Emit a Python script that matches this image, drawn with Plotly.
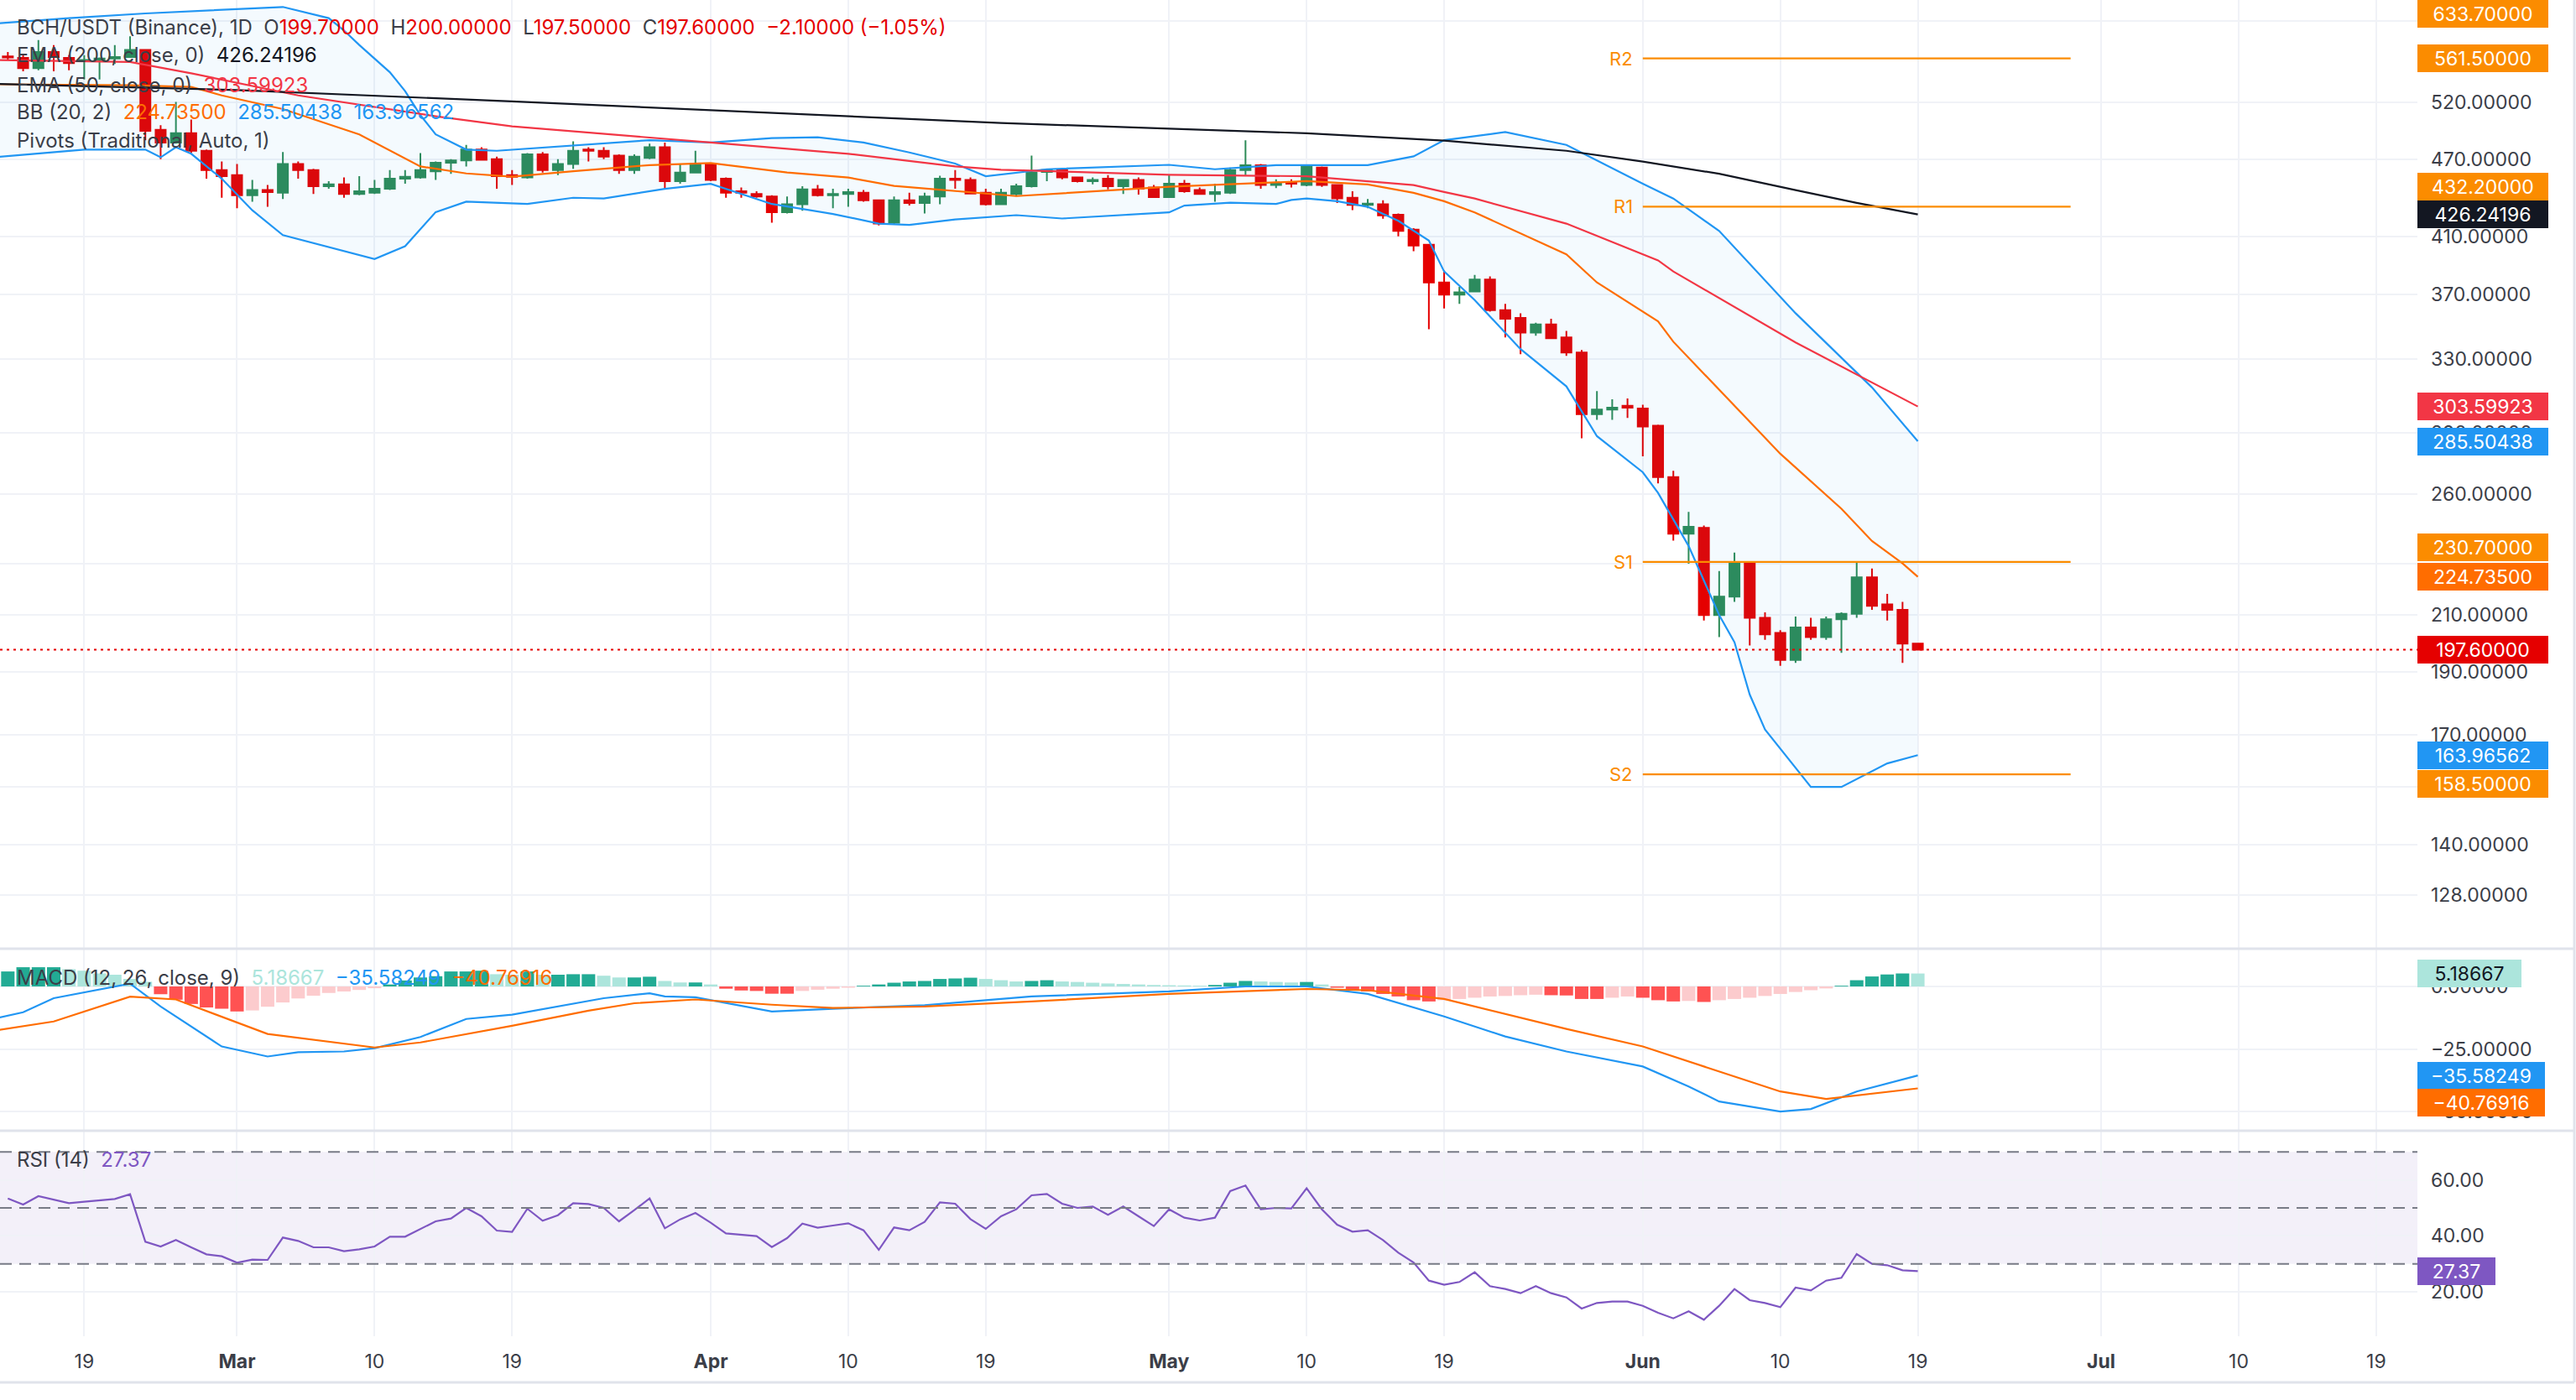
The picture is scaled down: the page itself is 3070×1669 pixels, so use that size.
import math
import pandas as pd
import plotly.graph_objects as go

FONT = "Inter"
TXT = "#3b3e48"
UP = "#2D8B57"
DN = "#E50000"

# ---------------- candles (daily) ----------------
dates = pd.date_range("2023-02-14", "2023-06-19", freq="D").strftime("%Y-%m-%d").tolist()

opens = [563.5, 562, 552, 568, 562, 559, 560, 561.5, 563, 570, 495, 484, 492, 477, 461,
         457, 441, 445, 443, 466, 461, 448, 449.5, 442, 443, 446, 454, 455, 460, 467, 469, 478, 470, 457, 455,
         474, 461, 466, 478, 477, 473, 461, 471, 480, 452, 459,
         466, 454, 444, 442, 440, 428, 434, 445.5, 441, 442, 443, 437, 420, 437, 435, 440, 454, 453, 443, 434,
         442, 448, 459.5, 461, 455, 452, 454, 448, 453, 447,
         439.5, 450, 445, 442, 443, 461, 465, 449, 451, 449, 463, 449, 439, 433.5, 434, 426, 415, 404, 378, 370,
         372, 380, 360, 355, 346, 351, 343, 334, 299.5, 302, 304,
         302.5, 293.5, 268, 242.5, 245, 210, 217, 230, 209, 203.5, 194, 205.5, 202, 208.5, 210.5, 224.5, 214, 212, 199.7]
highs = [568, 565, 580, 575, 565, 564.7, 562.5, 575, 584, 571, 499, 520, 504, 478, 468,
         466, 453, 449, 476, 468, 462, 452, 455, 456, 453, 461, 461, 475, 468, 470, 482, 480, 472, 461, 475,
         476, 470, 485, 480, 480, 474, 474, 483, 484, 466, 477,
         466.5, 455, 447, 444, 441, 440, 448, 449, 446, 446, 445, 437.5, 440, 443, 443, 456.5, 461, 455, 446, 446,
         450, 473, 462, 461.5, 455.5, 455, 457, 453.5, 455, 449,
         457, 453, 447, 450, 463, 486, 466, 453.5, 453.5, 464, 464, 449.5, 444, 438, 437, 427, 416, 404.5, 386, 375,
         383, 382, 364, 358, 352, 354.5, 347, 335.5, 312, 307.5, 308,
         304.5, 294, 271, 252, 246, 227, 234.5, 231, 211, 204.5, 209.5, 209, 209.5, 211, 231, 228, 218, 215, 200]
lows = [560, 549, 550, 549, 550, 541, 541, 556, 562, 486, 470, 483, 475, 454, 439,
        431, 436, 432, 438, 454, 442, 446, 439, 441, 442, 445, 450, 454, 453, 458, 464, 469, 446, 449, 454,
        459, 457, 462, 468, 470, 458, 458, 470, 446, 450, 459,
        452, 439, 439, 439, 420, 427, 429, 440, 431, 432, 436, 418, 419, 433, 427, 434, 446, 442, 433, 434,
        440, 447, 452, 453.5, 451, 449.5, 445.5, 442, 441.5, 439,
        439, 443, 441.5, 436, 442, 457, 446, 446.5, 447, 448, 447.5, 435, 429.5, 431, 423, 410, 399.5, 348, 361, 364,
        372, 359, 343, 333, 344, 342, 332, 287, 296.5, 296.5, 297.5,
        278, 265, 239.5, 230, 208, 202, 215, 199, 201, 192, 193, 201, 201, 196.5, 209, 212, 208, 193, 197.5]
closes = [562.5, 552, 568, 563, 557, 560, 561.5, 563, 570, 494, 484, 492, 477, 461, 456,
          441, 445, 443.5, 466, 461, 448, 449.5, 442, 444, 446, 454, 455.5, 461, 467, 469, 478, 469.5, 456, 455.5, 474,
          461, 466, 477, 477, 472, 461, 472, 480, 452, 459, 466,
          453, 443, 443, 440, 428, 434, 445.5, 441, 442, 443.5, 437, 419.5, 437, 435, 440, 454, 453, 442.3, 434, 443,
          448, 459, 461, 455, 452, 453, 448, 453, 446, 439.5,
          450, 444, 442, 443.5, 461, 465, 449, 450, 450, 463.5, 449, 438.5, 433.5, 434.5, 425.5, 414, 403.5, 378, 370, 371.5,
          380, 360, 354.5, 346, 351, 342.5, 334, 299.5, 302, 303, 303,
          293, 268, 242.5, 245.5, 210, 217, 230, 209, 203, 194, 205.5, 202, 208.5, 210.5, 224.5, 213.5, 212, 199.7, 197.6]

# ---------------- overlays (read at sample dates) ----------------
ema200_dates = ["2023-02-13", "2023-03-01", "2023-03-19", "2023-04-10", "2023-04-20", "2023-05-01", "2023-05-10",
                "2023-05-19", "2023-05-27", "2023-06-01", "2023-06-06", "2023-06-11", "2023-06-15", "2023-06-19"]
ema200_vals = [537, 531, 520.5, 507, 501, 496, 492, 485.6, 477, 468, 458, 445, 435, 426.24196]

ema50_dates = ["2023-02-13", "2023-02-22", "2023-02-26", "2023-03-01", "2023-03-05", "2023-03-14", "2023-03-19",
               "2023-04-01", "2023-04-10", "2023-04-17", "2023-04-20", "2023-05-01", "2023-05-10", "2023-05-14",
               "2023-05-17", "2023-05-19", "2023-05-21", "2023-05-27", "2023-06-02", "2023-06-03", "2023-06-11",
               "2023-06-19"]
ema50_vals = [560, 558, 547, 538, 526, 507, 498, 484, 474.5, 464, 461.3, 457.2, 456, 452, 449, 443.5, 438.4,
              419.4, 393, 385.4, 340, 303.59923]

bb_mid_dates = ["2023-02-13", "2023-02-22", "2023-02-26", "2023-02-28", "2023-03-04", "2023-03-09", "2023-03-13",
                "2023-03-16", "2023-03-19", "2023-03-23", "2023-03-28", "2023-04-01", "2023-04-06", "2023-04-10",
                "2023-04-13", "2023-04-18", "2023-04-21", "2023-05-01", "2023-05-10", "2023-05-14", "2023-05-17",
                "2023-05-19", "2023-05-21", "2023-05-27", "2023-05-29", "2023-06-02", "2023-06-03", "2023-06-10",
                "2023-06-14", "2023-06-16", "2023-06-18", "2023-06-19"]
bb_mid_vals = [536.5, 535.5, 534, 526, 513.5, 491, 464, 458.3, 455.6, 460.1, 465.1, 466.8, 459, 455, 448.3, 443.2,
               440.3, 447.6, 452.1, 449.4, 442.8, 436.3, 427.8, 397.2, 378, 352.9, 340.4, 279.3, 253.4, 239.4,
               230.1, 224.735]

bb_up_dates = ["2023-02-13", "2023-02-18", "2023-02-23", "2023-03-04", "2023-03-07", "2023-03-08", "2023-03-09",
               "2023-03-11", "2023-03-12", "2023-03-13", "2023-03-14", "2023-03-16", "2023-03-18", "2023-03-23",
               "2023-03-28", "2023-04-01", "2023-04-05", "2023-04-08", "2023-04-11", "2023-04-14", "2023-04-17",
               "2023-04-19", "2023-04-23", "2023-05-01", "2023-05-04", "2023-05-08", "2023-05-14", "2023-05-17",
               "2023-05-19", "2023-05-23", "2023-05-27", "2023-06-01", "2023-06-03", "2023-06-06", "2023-06-11",
               "2023-06-16", "2023-06-19"]
bb_up_vals = [597, 603, 608, 615, 603, 590, 575, 548, 530, 508, 491, 478, 477, 481.5, 486, 484, 487.8, 488.5,
              484, 475.6, 466.3, 456, 461.7, 465.3, 461.7, 465, 465, 472.3, 486, 493, 482, 450, 438.4, 414, 358,
              314, 285.50438]

bb_lo_dates = ["2023-02-13", "2023-02-19", "2023-02-23", "2023-02-24", "2023-02-25", "2023-02-26", "2023-02-28",
               "2023-03-02", "2023-03-04", "2023-03-10", "2023-03-12", "2023-03-13", "2023-03-14", "2023-03-16",
               "2023-03-18", "2023-03-20", "2023-03-23", "2023-03-25", "2023-03-29", "2023-04-01", "2023-04-05",
               "2023-04-09", "2023-04-12", "2023-04-14", "2023-04-17", "2023-04-21", "2023-04-24", "2023-05-01",
               "2023-05-02", "2023-05-05", "2023-05-08", "2023-05-09", "2023-05-10", "2023-05-12", "2023-05-14",
               "2023-05-16", "2023-05-18", "2023-05-19", "2023-05-21", "2023-05-24", "2023-05-27", "2023-05-29",
               "2023-06-01", "2023-06-02", "2023-06-04", "2023-06-06", "2023-06-07", "2023-06-08", "2023-06-09",
               "2023-06-12", "2023-06-14", "2023-06-17", "2023-06-19"]
bb_lo_vals = [471.5, 478, 478, 471.5, 480, 474.5, 454, 429.4, 411, 394, 403, 415, 428, 436, 435, 434.2, 439,
              438.4, 446, 449.9, 434.2, 426.6, 419.4, 418.4, 422.5, 425.7, 423.2, 427.8, 433, 435.2, 434.2, 437.3,
              438.4, 436.3, 432, 421.5, 407, 385.4, 366.4, 336, 314.6, 288.1, 270.3, 260.6, 237.3, 210, 200.2,
              182.5, 171.6, 155, 155, 161.6, 163.96562]

# monthly pivots
pivot_names = ["R2", "R1", "S1", "S2"]
pivot_vals = [561.5, 432.2, 230.7, 158.5]
pivot_start, pivot_end = "2023-06-01", "2023-06-29"
pivot_r3 = 633.7

# ---------------- MACD ----------------
macd_dates = ["2023-02-13", "2023-02-15", "2023-02-17", "2023-02-22", "2023-02-24", "2023-02-28", "2023-03-03",
              "2023-03-05", "2023-03-08", "2023-03-10", "2023-03-13", "2023-03-16", "2023-03-19", "2023-03-22",
              "2023-03-25", "2023-03-28", "2023-03-29", "2023-03-31", "2023-04-05", "2023-04-09", "2023-04-15",
              "2023-04-22", "2023-05-01", "2023-05-06", "2023-05-10", "2023-05-14", "2023-05-19", "2023-05-23",
              "2023-05-27", "2023-06-01", "2023-06-04", "2023-06-06", "2023-06-10", "2023-06-12", "2023-06-15",
              "2023-06-19"]
macd_vals = [-13, -10.3, -4.7, 1.1, -8, -24, -28, -26.3, -26, -24.7, -20.2, -13, -11.3, -8, -4.7, -2.7, -4,
             -4.3, -10, -8.9, -7.5, -4, -2, 0, 0, -3, -12, -20, -26, -32, -40, -46, -50, -49, -42, -35.58249]
signal_dates = ["2023-02-13", "2023-02-17", "2023-02-22", "2023-02-25", "2023-03-03", "2023-03-10", "2023-03-13",
                "2023-03-19", "2023-03-24", "2023-03-27", "2023-03-31", "2023-04-05", "2023-04-09", "2023-04-15",
                "2023-04-22", "2023-05-01", "2023-05-10", "2023-05-14", "2023-05-19", "2023-05-23", "2023-05-27",
                "2023-06-01", "2023-06-05", "2023-06-10", "2023-06-13", "2023-06-16", "2023-06-19"]
signal_vals = [-17.8, -14, -4.1, -5.2, -19, -24.4, -22.4, -15.7, -9.7, -6.7, -5.2, -7.3, -8.6, -8, -6, -3, -1,
               -1.5, -5, -11, -17, -24, -32, -42, -45, -43, -40.76916]
macd_hist = [6.0, 7.7, 7.7, 7.7, 6.9, 6.3, 5.2, 4.7, 3.0, 1.9, -3.1, -5.3, -7.0, -8.4, -8.9,
             -10.0, -9.6, -8.1, -6.4, -4.8, -3.7, -2.6, -2.0, -1.4, -0.7, 0.8, 2.4, 3.6, 4.1, 6.0, 6.0, 6.3, 4.9,
             4.7, 6.0, 4.7, 4.7, 4.9, 4.9, 4.3, 3.6, 3.6, 3.9, 2.2, 1.6, 1.6,
             0.8, -0.9, -1.6, -1.8, -2.9, -2.9, -1.8, -1.3, -0.9, -0.5, 0.3, 0.8, 1.5, 2.0, 2.2, 3.0, 3.2, 3.5,
             3.0, 2.5, 2.0, 2.2, 2.5, 2.0, 1.8, 1.5, 1.2, 1.0, 0.8, 0.6,
             0.5, 0.4, 0.3, 0.6, 1.5, 2.2, 2.0, 1.8, 1.6, 1.8, 0.8, -0.5, -1.5, -2.0, -3.0, -4.0, -5.5, -6.0,
             -5.5, -5.0, -4.5, -4.0, -3.8, -3.5, -3.3, -3.5, -3.6, -5.0, -5.0, -4.5, -4.0,
             -4.5, -5.5, -6.0, -5.8, -6.2, -5.5, -5.0, -4.5, -3.8, -3.0, -2.2, -1.5, -0.8, 0.3, 2.5, 4.0, 4.8,
             5.2, 5.18667]

# ---------------- RSI ----------------
rsi_vals = [53.4, 51.2, 54.2, 52.9, 51.7, 52.2, 52.7, 53.2, 54.9, 37.9, 36.2, 38.5, 35.9, 33.4, 32.7,
            30.4, 31.5, 31.4, 39.4, 38.2, 35.9, 35.9, 34.5, 35.2, 36.2, 39.7, 39.7, 42.4, 45.2, 46.2, 50.0, 47.0,
            41.9, 41.4, 49.7, 45.4, 47.4, 51.7, 51.4, 50.0, 45.2, 49.2, 53.4, 42.7, 45.9, 48.2,
            44.7, 40.9, 40.4, 39.9, 36.0, 39.2, 44.4, 42.9, 43.7, 44.5, 42.0, 35.0, 43.0, 42.0, 45.0, 52.0, 51.5,
            46.0, 42.5, 47.0, 49.5, 54.5, 55.0, 51.5, 50.0, 50.5, 47.5, 50.5, 47.0, 43.5,
            49.5, 46.5, 45.5, 46.5, 56.0, 58.0, 49.5, 50.0, 49.8, 57.0, 49.5, 44.0, 41.5, 42.0, 38.5, 34.0, 30.5,
            24.0, 22.5, 23.5, 27.0, 22.0, 21.0, 19.5, 22.0, 19.5, 18.0, 14.0, 16.0, 16.5, 16.5,
            15.0, 12.5, 10.5, 13.0, 10.0, 15.0, 21.0, 17.0, 16.0, 14.5, 21.5, 20.5, 24.0, 25.0, 33.5, 30.0, 29.5,
            27.7, 27.37]

# ---------------- axes ticks ----------------
price_ticks = [128, 140, 155, 170, 190, 210, 230, 260, 290, 330, 370, 410, 470, 520, 600]
price_hidden = [155, 230]          # grid lines whose labels sit fully behind value tags
macd_ticks = [0, -25, -50]
rsi_ticks = [20, 40, 60]
x_tick_dates = ["2023-02-19", "2023-03-01", "2023-03-10", "2023-03-19", "2023-04-01", "2023-04-10", "2023-04-19",
                "2023-05-01", "2023-05-10", "2023-05-19", "2023-06-01", "2023-06-10", "2023-06-19", "2023-07-01",
                "2023-07-10", "2023-07-19"]
x_tick_text = ["19", "<b>Mar</b>", "10", "19", "<b>Apr</b>", "10", "19", "<b>May</b>", "10", "19", "<b>Jun</b>",
               "10", "19", "<b>Jul</b>", "10", "19"]
x_range = ["2023-02-13 11:41", "2023-07-21 16:44"]

# ---------------- geometry helpers ----------------
PLOT_R, PLOT_B = 2881, 1593
def py(ypx):
    return 1 - ypx / PLOT_B
def pxp(xpx):
    return xpx / PLOT_R

GRID = "#F0F2F7"
SEP = "#E0E3EB"

fig = go.Figure()

# Bollinger fill and bands
fig.add_trace(go.Scatter(x=bb_up_dates, y=bb_up_vals, mode="lines", line=dict(color="#2196F3", width=2.2),
                         yaxis="y", hoverinfo="skip"))
fig.add_trace(go.Scatter(x=bb_lo_dates, y=bb_lo_vals, mode="lines", line=dict(color="#2196F3", width=2.2),
                         fill="tonexty", fillcolor="rgba(33,150,243,0.05)", yaxis="y", hoverinfo="skip"))
fig.add_trace(go.Scatter(x=bb_mid_dates, y=bb_mid_vals, mode="lines", line=dict(color="#FF6D00", width=2.2),
                         yaxis="y", hoverinfo="skip"))
fig.add_trace(go.Scatter(x=ema50_dates, y=ema50_vals, mode="lines", line=dict(color="#F23645", width=2.2),
                         yaxis="y", hoverinfo="skip"))
fig.add_trace(go.Scatter(x=ema200_dates, y=ema200_vals, mode="lines", line=dict(color="#131722", width=2.2),
                         yaxis="y", hoverinfo="skip"))
for v in pivot_vals:
    fig.add_trace(go.Scatter(x=[pivot_start, pivot_end], y=[v, v], mode="lines",
                             line=dict(color="#FB8C00", width=2.2), yaxis="y", hoverinfo="skip"))

fig.add_trace(go.Candlestick(x=dates, open=opens, high=highs, low=lows, close=closes, yaxis="y",
                             increasing=dict(line=dict(color=UP, width=2), fillcolor=UP),
                             decreasing=dict(line=dict(color=DN, width=2), fillcolor=DN),
                             whiskerwidth=0, hoverinfo="skip"))

# MACD
hist_colors = []
for i, v in enumerate(macd_hist):
    prev = macd_hist[i - 1] if i > 0 else v
    if v >= 0:
        hist_colors.append("#22AB94" if v >= prev else "#ACE5DC")
    else:
        hist_colors.append("#FF5252" if v <= prev else "#FCCBCD")
fig.add_trace(go.Bar(x=dates, y=macd_hist, marker=dict(color=hist_colors, line=dict(width=0)), yaxis="y2",
                     hoverinfo="skip"))
fig.add_trace(go.Scatter(x=macd_dates, y=macd_vals, mode="lines", line=dict(color="#2196F3", width=2.2),
                         yaxis="y2", hoverinfo="skip"))
fig.add_trace(go.Scatter(x=signal_dates, y=signal_vals, mode="lines", line=dict(color="#FF6D00", width=2.2),
                         yaxis="y2", hoverinfo="skip"))

# RSI
fig.add_trace(go.Scatter(x=dates, y=rsi_vals, mode="lines", line=dict(color="#7E57C2", width=2.2),
                         yaxis="y3", hoverinfo="skip"))

shapes = []
shapes.append(dict(type="rect", xref="paper", yref="y3", x0=0, x1=1, y0=30, y1=70,
                   fillcolor="rgba(126,87,194,0.09)", line=dict(width=0), layer="below"))
for lvl in (70, 50, 30):
    shapes.append(dict(type="line", xref="paper", yref="y3", x0=0, x1=1, y0=lvl, y1=lvl,
                       line=dict(color="#787B86", width=2, dash="14px,9px"), layer="above"))
shapes.append(dict(type="line", xref="paper", yref="y", x0=0, x1=1, y0=closes[-1], y1=closes[-1],
                   line=dict(color=DN, width=2, dash="3px,5px"), layer="above"))
for ypx in (1131, 1348, 1648):
    shapes.append(dict(type="line", xref="paper", yref="paper", x0=0, x1=pxp(3068), y0=py(ypx), y1=py(ypx),
                       line=dict(color=SEP, width=3)))
shapes.append(dict(type="line", xref="paper", yref="paper", x0=pxp(3068), x1=pxp(3068), y0=py(0), y1=py(1648),
                   line=dict(color=SEP, width=3)))

ann = []
def legend_row(ypx, html):
    ann.append(dict(text=html, x=0, xref="paper", xanchor="left", xshift=18, y=py(ypx), yref="paper",
                    yanchor="middle", showarrow=False, font=dict(family=FONT, size=24, color=TXT), align="left"))

def col(c, t):
    return f"<span style='color:{c}'>{t}</span>"

S2 = "\u00a0\u00a0"
legend_row(33, "BCH/USDT (Binance), 1D" + S2 + "O" + col(DN, "199.70000") + S2 + "H" + col(DN, "200.00000") + S2 +
           "L" + col(DN, "197.50000") + S2 + "C" + col(DN, "197.60000") + S2 + col(DN, "\u22122.10000 (\u22121.05%)"))
legend_row(66, "EMA (200, close, 0)" + S2 + col("#131722", f"{ema200_vals[-1]:.5f}"))
legend_row(101, "EMA (50, close, 0)" + S2 + col("#F23645", f"{ema50_vals[-1]:.5f}"))
legend_row(134, "BB (20, 2)" + S2 + col("#FF6D00", f"{bb_mid_vals[-1]:.5f}") + S2 +
           col("#2196F3", f"{bb_up_vals[-1]:.5f}") + S2 + col("#2196F3", f"{bb_lo_vals[-1]:.5f}"))
legend_row(168, "Pivots (Traditional, Auto, 1)")
legend_row(1165, "MACD (12, 26, close, 9)" + S2 + col("#ACE5DC", f"{macd_hist[-1]:.5f}") + S2 +
           col("#2196F3", f"\u2212{abs(macd_vals[-1]):.5f}") + S2 + col("#FF6D00", f"\u2212{abs(signal_vals[-1]):.5f}"))
legend_row(1382, "RSI (14)" + S2 + col("#7E57C2", f"{rsi_vals[-1]:.2f}"))

for name, v in zip(pivot_names, pivot_vals):
    ann.append(dict(text=name, x=pivot_start, xref="x", xanchor="right", xshift=-10, y=math.log10(v), yref="y",
                    yanchor="middle", showarrow=False, font=dict(family=FONT, size=22, color="#FB8C00")))

def box(text, y, yref, bg, fg="#FFFFFF", width=156, yshift=0, yanchor="middle"):
    ann.append(dict(text=text, x=1, xref="paper", xanchor="left", y=y, yref=yref, yanchor=yanchor, yshift=yshift,
                    showarrow=False, bgcolor=bg, borderpad=0, borderwidth=0, width=width, height=33, align="center",
                    font=dict(family=FONT, size=23, color=fg)))

box(f"{pivot_r3:.5f}", 1, "paper", "#FB8C00", yanchor="top")
box(f"{pivot_vals[0]:.5f}", math.log10(pivot_vals[0]), "y", "#FB8C00")
box(f"{pivot_vals[1]:.5f}", math.log10(pivot_vals[1]), "y", "#FB8C00", yshift=24)
box(f"{ema200_vals[-1]:.5f}", math.log10(ema200_vals[-1]), "y", "#131722")
box(f"{ema50_vals[-1]:.5f}", math.log10(ema50_vals[-1]), "y", "#F23645")
box(f"{bb_up_vals[-1]:.5f}", math.log10(bb_up_vals[-1]), "y", "#2196F3")
box(f"{pivot_vals[2]:.5f}", math.log10(pivot_vals[2]), "y", "#FB8C00", yshift=17)
box(f"{bb_mid_vals[-1]:.5f}", math.log10(bb_mid_vals[-1]), "y", "#FF6D00")
box(f"{closes[-1]:.5f}", math.log10(closes[-1]), "y", DN)
box(f"{bb_lo_vals[-1]:.5f}", math.log10(bb_lo_vals[-1]), "y", "#2196F3")
box(f"{pivot_vals[3]:.5f}", math.log10(pivot_vals[3]), "y", "#FB8C00", yshift=-11)
box(f"{macd_hist[-1]:.5f}", macd_hist[-1], "y2", "#ACE5DC", fg="#131722", width=124)
box(f"\u2212{abs(macd_vals[-1]):.5f}", macd_vals[-1], "y2", "#2196F3", width=152)
box(f"\u2212{abs(signal_vals[-1]):.5f}", signal_vals[-1], "y2", "#FF6D00", width=152, yshift=-17)
box(f"{rsi_vals[-1]:.2f}", rsi_vals[-1], "y3", "#7E57C2", width=93)

axis_font = dict(family=FONT, size=23, color=TXT)
yaxis_common = dict(side="right", showgrid=True, gridcolor=GRID, gridwidth=2, zeroline=False, showline=False,
                    ticks="", tickfont=axis_font, ticklabelstandoff=15, fixedrange=True)

fig.update_layout(
    width=3070, height=1669, autosize=False,
    margin=dict(l=0, r=3070 - PLOT_R, t=0, b=1669 - PLOT_B),
    paper_bgcolor="#FFFFFF", plot_bgcolor="#FFFFFF",
    showlegend=False, hovermode=False,
    font=dict(family=FONT, size=23, color=TXT),
    boxgap=0.34, boxgroupgap=0, bargap=0.12,
    xaxis=dict(type="date", range=x_range, anchor="y3", showgrid=True, gridcolor=GRID, gridwidth=2,
               tickvals=x_tick_dates, ticktext=x_tick_text, ticks="", tickfont=axis_font,
               ticklabelstandoff=14, rangeslider=dict(visible=False), showline=False, zeroline=False,
               fixedrange=True),
    yaxis=dict(type="log", domain=[py(1131), 1], anchor="x",
               range=[math.log10(116.48), math.log10(622.6)],
               tickvals=price_ticks,
               ticktext=["" if v in price_hidden else f"{v:.5f}" for v in price_ticks], **yaxis_common),
    yaxis2=dict(domain=[py(1348), py(1131)], anchor="x", range=[-57.7, 15.1],
                tickvals=macd_ticks, tickformat=".5f", **yaxis_common),
    yaxis3=dict(domain=[0, py(1348)], anchor="x", range=[4.1, 77.6],
                tickvals=rsi_ticks, tickformat=".2f", **yaxis_common),
    shapes=shapes, annotations=ann,
)

fig.write_html("out.html", include_plotlyjs=True, config={"displayModeBar": False, "staticPlot": True},
               post_script="document.body.style.margin='0';document.body.style.padding='0';")
